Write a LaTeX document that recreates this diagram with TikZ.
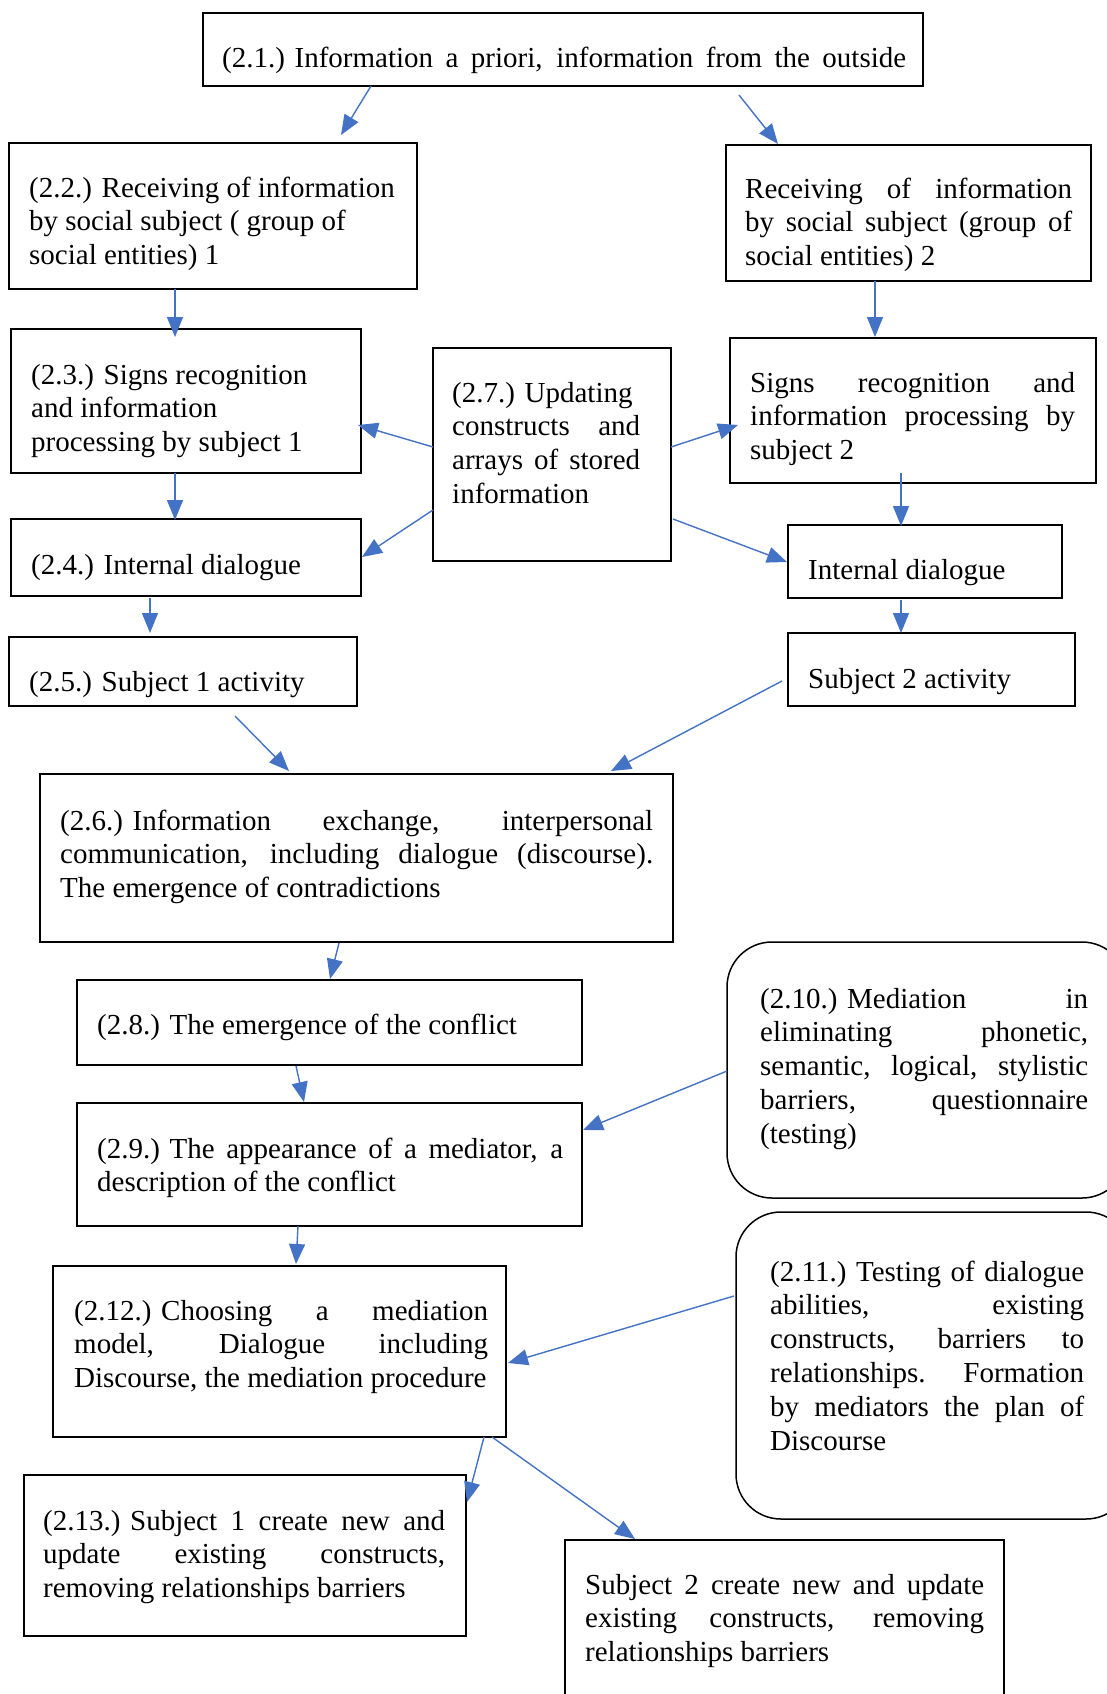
\documentclass[tikz,border=0pt]{standalone}
\usepackage{fontspec}
\setmainfont{Liberation Serif}
\usetikzlibrary{arrows.meta}
\definecolor{arrblue}{HTML}{4472C4}
\newcommand\JL[2]{\makebox[#1pt][s]{#2}}
\newcommand\rp[3]{([shift={(#2,#3)}]#1.north west)}
\tikzset{arrtip/.tip={Triangle[length=20pt,width=16pt]}}
\begin{document}
\begin{tikzpicture}[x=1pt,y=-1pt,
  box/.style={draw=black, line width=1.5pt, anchor=north west, inner sep=0pt, outer sep=0pt},
  rbox/.style={box, rounded corners=45pt},
  txt/.style={anchor=base west, inner sep=0pt, align=left, font=\fontsize{29}{33.8}\selectfont},
  arr/.style={draw=arrblue, line width=1.4pt, -arrtip}]
\clip (0,0) rectangle (1107,1694);
% boxes
\node[box, minimum width=720pt, minimum height=73pt] (b21) at (203,13) {};
\node[box, minimum width=408pt, minimum height=146pt] (b22) at (9,143) {};
\node[box, minimum width=365pt, minimum height=136pt] (bR2) at (726,145) {};
\node[box, minimum width=350pt, minimum height=144pt] (b23) at (11,329) {};
\node[box, minimum width=238pt, minimum height=213pt] (b27) at (433,348) {};
\node[box, minimum width=366pt, minimum height=145pt] (bS2) at (730,338) {};
\node[box, minimum width=350pt, minimum height=77pt] (b24) at (11,519) {};
\node[box, minimum width=274pt, minimum height=73pt] (bID2) at (788,525) {};
\node[box, minimum width=348pt, minimum height=69pt] (b25) at (9,637) {};
\node[box, minimum width=287pt, minimum height=73pt] (bSA2) at (788,633) {};
\node[box, minimum width=633pt, minimum height=168pt] (b26) at (40,774) {};
\node[box, minimum width=505pt, minimum height=85pt] (b28) at (77,980) {};
\node[rbox, minimum width=400pt, minimum height=256pt] (b210) at (727,942) {};
\node[box, minimum width=505pt, minimum height=123pt] (b29) at (77,1103) {};
\node[rbox, minimum width=395pt, minimum height=307pt] (b211) at (736,1212) {};
\node[box, minimum width=453pt, minimum height=171pt] (b212) at (53,1266) {};
\node[box, minimum width=442pt, minimum height=161pt] (b213) at (24,1475) {};
\node[box, minimum width=439pt, minimum height=180pt] (bS2f) at (565,1540) {};
% texts (anchor = baseline of the last line)
\node[txt] (t21) at (222,67) {\JL{684}{\mbox{(2.1.) Information} a priori, information from the outside}};
\node[txt] (t22) at (29,264.6) {(2.2.) Receiving of information\\by social subject ( group of\\social entities) 1};
\node[txt] (tR2) at (745,265.6) {\JL{327}{Receiving of information}\\\JL{327}{by social subject (group of}\\social entities) 2};
\node[txt] (t23) at (31,451.6) {(2.3.) Signs recognition\\and information\\processing by subject 1};
\node[txt] (t27) at (452,503.4) {(2.7.) Updating\\\JL{188}{constructs and}\\\JL{188}{arrays of stored}\\information};
\node[txt] (tS2) at (750,459.6) {\JL{325}{Signs recognition and}\\\JL{325}{information processing by}\\subject 2};
\node[txt] (t24) at (31,574) {(2.4.) Internal dialogue};
\node[txt] (tID2) at (808,579) {Internal dialogue};
\node[txt] (t25) at (29,691) {(2.5.) Subject 1 activity};
\node[txt] (tSA2) at (808,688) {Subject 2 activity};
\node[txt] (t26) at (60,897.6) {\JL{593}{\mbox{(2.6.) Information} exchange, interpersonal}\\\JL{593}{communication, including dialogue (discourse).}\\The emergence of contradictions};
\node[txt] (t28) at (97,1034) {(2.8.) The emergence of the conflict};
\node[txt] (t29) at (97,1191.8) {\JL{466}{\mbox{(2.9.) The} appearance of a mediator, a}\\description of the conflict};
\node[txt] (t210) at (760,1143.2) {\JL{328}{\mbox{(2.10.) Mediation} in}\\\JL{328}{eliminating phonetic,}\\\JL{328}{semantic, logical, stylistic}\\\JL{328}{barriers, questionnaire}\\(testing)};
\node[txt] (t211) at (770,1450) {\JL{314}{\mbox{(2.11.) Testing} of dialogue}\\\JL{314}{abilities, existing}\\\JL{314}{constructs, barriers to}\\\JL{314}{relationships. Formation}\\\JL{314}{by mediators the plan of}\\Discourse};
\node[txt] (t212) at (74,1387.6) {\JL{414}{\mbox{(2.12.) Choosing} a mediation}\\\JL{414}{model, Dialogue including}\\Discourse, the mediation procedure};
\node[txt] (t213) at (43,1597.6) {\JL{402}{\mbox{(2.13.) Subject} 1 create new and}\\\JL{402}{update existing constructs,}\\removing relationships barriers};
\node[txt] (tS2f) at (585,1661.6) {\JL{399}{Subject 2 create new and update}\\\JL{399}{existing constructs, removing}\\relationships barriers};
% arrows
\draw[arr] \rp{b21}{168}{73} -- \rp{b22}{332}{-8};
\draw[arr] \rp{b21}{536}{82} -- \rp{bR2}{52}{-1};
\draw[arr] \rp{b22}{166}{146} -- \rp{b23}{164}{8};
\draw[arr] \rp{bR2}{149}{136} -- \rp{bS2}{145}{-1};
\draw[arr] \rp{b27}{0}{99} -- \rp{b23}{347}{96};
\draw[arr] \rp{b27}{238}{99} -- \rp{bS2}{8}{87};
\draw[arr] \rp{b23}{164}{144} -- \rp{b24}{164}{1};
\draw[arr] \rp{b27}{0}{162} -- \rp{b24}{351}{38};
\draw[arr] \rp{b27}{240}{171} -- \rp{bID2}{-1}{37};
\draw[arr] \rp{bS2}{171}{135} -- \rp{bID2}{113}{1};
\draw[arr] \rp{b24}{139}{79} -- \rp{b25}{141}{-4};
\draw[arr] \rp{bID2}{113}{75} -- \rp{bSA2}{113}{0};
\draw[arr] \rp{b25}{226}{79} -- \rp{b26}{249}{-3};
\draw[arr] \rp{bSA2}{-6}{48} -- \rp{b26}{571}{-3};
\draw[arr] \rp{b26}{299}{169} -- \rp{b28}{253}{-1};
\draw[arr] \rp{b28}{219}{86} -- \rp{b29}{227}{-1};
\draw[arr] \rp{b210}{0}{129} -- \rp{b29}{506}{27};
\draw[arr] \rp{b29}{221}{123} -- \rp{b212}{243}{-2};
\draw[arr] \rp{b211}{-2}{84} -- \rp{b212}{455}{97};
\draw[arr] \rp{b212}{431}{171} -- \rp{b213}{443}{27};
\draw[arr] \rp{b212}{439}{171} -- \rp{bS2f}{70}{-1};
\end{tikzpicture}
\end{document}
